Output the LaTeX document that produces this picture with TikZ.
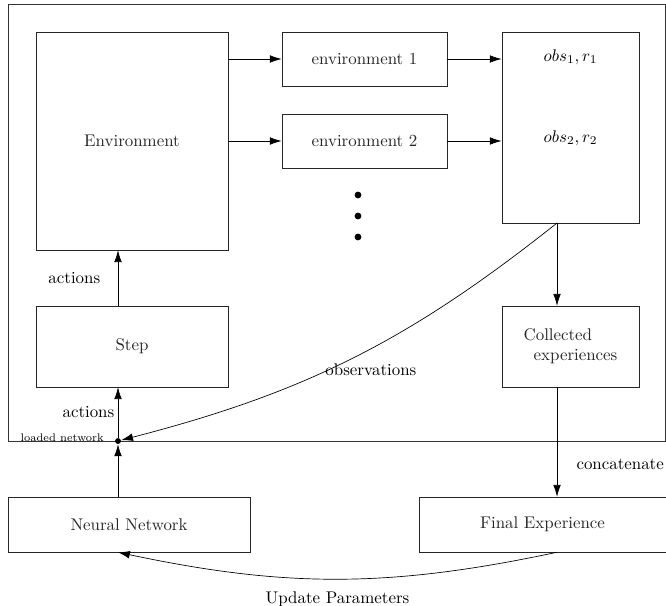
\documentclass[tikz,border=0pt]{standalone}
\usetikzlibrary{shapes,arrows.meta}
\usetikzlibrary{positioning}
\usetikzlibrary{calc}

\begin{document}
\begin{tikzpicture}[x=0.0208cm, y=-0.0208cm]
 \useasboundingbox (0,0) rectangle (666,605);
 \tikzstyle{box} = [draw, rectangle, inner sep=0pt, color=black!85];
 \tikzstyle{C} = [color=black, line width=0.4pt, -{Latex[length=7pt,width=4.5pt]}];

 % upper part
 \draw [black!80] (8,4) rectangle (665,441);
 \node (env) [box, minimum width=3.99cm, minimum height=4.53cm] at (132,141) {Environment};
 \node (env1) [box, minimum width=3.43cm, minimum height=1.12cm] at (364.5,59) {environment 1};
 \node (env2) [box, minimum width=3.43cm, minimum height=1.12cm] at (364.5,141) {environment 2};
 \node (obs) [box, minimum width=2.85cm, minimum height=3.97cm] at (570.5,127.5) {};
 \node (obs1) at (570.5,57) {$obs_1, r_1$};
 \node (obs2) at (570.5,138) {$obs_2, r_2$};
 \node (dot1) [circle, fill, inner sep=0pt, minimum size=4pt] at (358,195) {};
 \node (dot2) [circle, fill, inner sep=0pt, minimum size=4pt] at (358,216) {};
 \node (dot3) [circle, fill, inner sep=0pt, minimum size=4pt] at (358,237) {};
 \node (step) [box, minimum width=3.99cm, minimum height=1.68cm] at (132,346.5) {Step};
 \node (coll) [box, align=left, minimum width=2.85cm, minimum height=1.68cm] at (570.5,346.5) {Collected\\\hspace{6pt}experiences};
 \coordinate (tap) at (557,223);

 % loading point
 \node (load) [circle, fill, inner sep=0pt, minimum size=3.5pt] at (118,441) {};
 \node (loadtext) [anchor=base east, font=\fontsize{6.5pt}{8pt}\selectfont, inner sep=0pt] at ($(load)+(-14,0)$) {loaded network};

 % lower part
 \node (nn) [box, minimum width=5.03cm, minimum height=1.14cm] at (129,524.5) {Neural Network};
 \node (final) [box, minimum width=5.14cm, minimum height=1.14cm] at (542.5,524.5) {Final Experience};

 \draw [C] (env1 -| env.east) -- (env1.west);
 \draw [C] (env2 -| env.east) -- (env2.west);
 \draw [C] (env1.east) -- (env1 -| obs.west);
 \draw [C] (env2.east) -- (env2 -| obs.west);
 \draw [C] (load |- step.north) -- (load |- env.south) node [midway, left=7pt] {actions};
 \draw [C] (load) -- (load |- step.south) node [midway, left, inner sep=2pt] {actions};
 \draw [C] (load |- nn.north) -- (load);
 \draw [C] (tap) -- (tap |- coll.north);
 \draw [C] (tap |- coll.south) -- (tap |- final.north) node [pos=0.7, right=8pt] {concatenate};
 \draw [C] (tap) to [bend left=12] node [midway, below, xshift=11pt] {observations} (load);
 \draw [C] (tap |- final.south) to [bend left=12] node [midway, below=4pt] {Update Parameters} (load |- nn.south);
\end{tikzpicture}
\end{document}
